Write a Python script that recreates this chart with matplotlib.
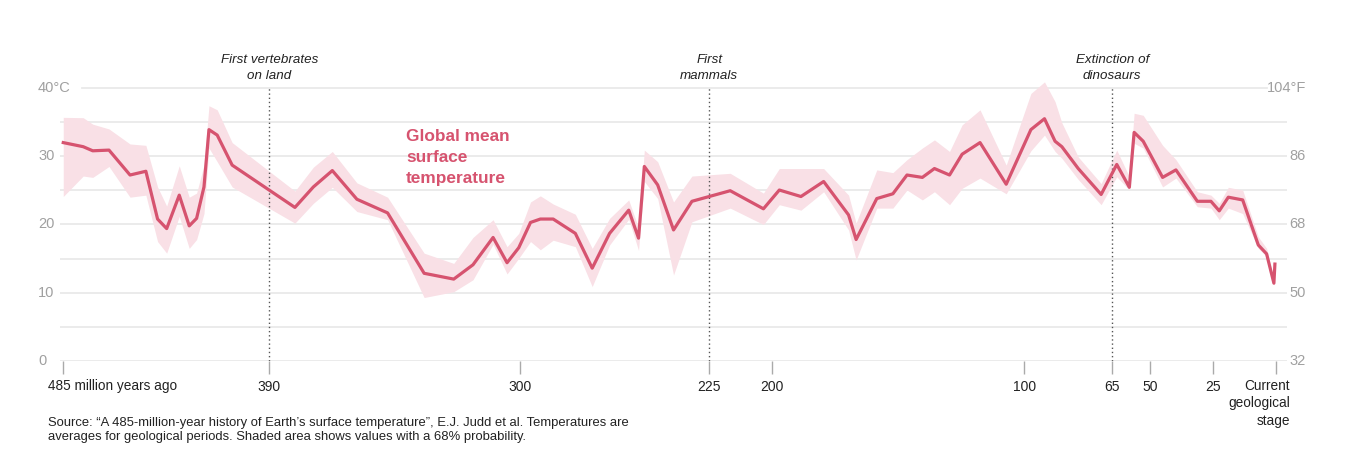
# Global mean surface temperature over the last 485 million years
import numpy as np
import matplotlib.pyplot as plt

plt.rcParams['font.family'] = ['Liberation Sans', 'DejaVu Sans']

# Data (millions of years ago, °C)
myr = [485, 475.8, 471.4, 463.9, 454.2, 446.9, 441.5, 437.3, 431.5, 426.9,
       423.5, 420.1, 417.8, 414.0, 407.1, 380.8, 374.2, 367.4, 358.6, 347.6,
       334.5, 323.9, 317.0, 309.8, 304.8, 300.6, 296.0, 292.1, 287.0, 278.2,
       271.5, 264.6, 257.0, 253.1, 250.8, 245.5, 239.2, 231.9, 216.7, 203.5,
       197.2, 188.6, 179.6, 169.7, 166.7, 158.5, 152.1, 146.5, 140.4, 135.6,
       129.6, 124.6, 117.5, 107.1, 97.3, 91.9, 87.7, 85.0, 78.5, 69.4,
       63.2, 58.2, 56.3, 52.7, 45.0, 39.7, 31.2, 25.8, 22.5, 18.9,
       13.2, 7.0, 3.7, 0.8, 0.4]
temp = [32.0, 31.4, 30.8, 30.9, 27.25, 27.8, 20.8, 19.4, 24.3, 19.8,
        20.9, 25.5, 33.9, 33.1, 28.7, 22.5, 25.5, 27.9, 23.7, 21.7,
        12.85, 12.0, 14.1, 18.1, 14.4, 16.6, 20.3, 20.8, 20.8, 18.7,
        13.6, 18.7, 22.1, 18.0, 28.5, 25.8, 19.2, 23.4, 24.95, 22.3,
        25.05, 24.1, 26.3, 21.4, 17.8, 23.8, 24.5, 27.25, 26.9, 28.2,
        27.25, 30.3, 32.0, 25.9, 33.9, 35.5, 32.2, 31.4, 28.2, 24.4,
        28.8, 25.45, 33.5, 32.2, 26.9, 28.0, 23.4, 23.4, 22.0, 24.0,
        23.6, 17.0, 15.7, 11.4, 14.2]
upper = [35.7, 35.65, 34.7, 34.0, 31.8, 31.6, 25.5, 22.7, 28.6, 24.0,
         24.6, 28.7, 37.4, 36.8, 32.0, 24.9, 28.4, 30.7, 26.1, 24.0,
         15.8, 14.3, 18.1, 20.7, 16.75, 18.7, 23.3, 24.2, 23.0, 21.5,
         16.5, 20.9, 23.6, 19.5, 30.9, 29.2, 23.3, 27.1, 27.5, 24.6,
         28.2, 28.2, 28.2, 24.3, 20.2, 28.0, 27.6, 29.5, 31.2, 32.4,
         30.7, 34.6, 36.8, 28.7, 39.2, 40.9, 38.0, 34.9, 29.9, 26.0,
         30.9, 27.0, 36.3, 36.0, 31.6, 29.5, 24.8, 24.3, 23.1, 25.45,
         25.05, 18.2, 16.5, 11.9, 14.5]
lower = [24.1, 27.1, 26.9, 28.5, 24.0, 24.3, 17.5, 15.8, 21.2, 16.5,
         17.8, 21.6, 31.2, 29.2, 25.5, 20.2, 23.1, 25.45, 21.9, 20.7,
         9.3, 10.15, 11.9, 17.1, 12.75, 15.05, 17.5, 16.3, 17.7, 16.75,
         10.9, 17.0, 20.76, 16.2, 26.3, 23.8, 12.6, 20.4, 22.4, 20.0,
         22.9, 22.1, 24.8, 19.2, 14.8, 22.4, 22.4, 25.05, 23.6, 24.8,
         22.9, 25.3, 26.8, 24.5, 30.8, 33.1, 30.7, 29.7, 26.6, 22.9,
         27.0, 25.05, 31.9, 31.2, 25.5, 26.8, 22.6, 22.4, 20.7, 22.4,
         21.6, 16.5, 15.3, 11.1, 13.9]

x_ticks = [485, 390, 300, 225, 200, 100, 65, 50, 25, 0]
x_labels = ['', '390', '300', '225', '200', '100', '65', '50', '25', '']
c_ticks = [0, 10, 20, 30, 40]
c_labels = ['0', '10', '20', '30', '40°C']
f_labels = ['32', '50', '68', '86', '104°F']
events = [(390, 'First vertebrates\non land'),
          (225, 'First\nmammals'),
          (65, 'Extinction of\ndinosaurs')]

LINE = '#d6536f'
BAND = '#f9e0e6'

# The original time axis is not evenly spaced before 300 Ma
KNOT_MYR = [-50, 0, 300, 390, 485, 600]
KNOT_POS = [-126, 0, 755.5, 1006.7, 1212.7, 1462]


def fwd(m):
    return np.interp(m, KNOT_MYR, KNOT_POS)


def inv(p):
    return np.interp(p, KNOT_POS, KNOT_MYR)


fig = plt.figure(figsize=(13.45, 4.61), dpi=100)
ax = fig.add_axes([60 / 1345, 100 / 461, 1227 / 1345, 42 * 6.825 / 461])
ax.set_xscale('function', functions=(fwd, inv))
ax.set_xlim(486.5, -4.4)
ax.set_ylim(0, 42)
for s in ax.spines.values():
    s.set_visible(False)

# gridlines every 5 °C
for v in range(0, 41, 5):
    if v == 40:
        ax.axhline(v, xmin=22 / 1227, xmax=1207 / 1227, color='#e9e9e9', lw=1.3, zorder=0)
    else:
        ax.axhline(v, color='#e9e9e9', lw=1.3, zorder=0)

# shaded 68% range and mean line
ax.fill_between(myr, lower, upper, color=BAND, lw=0, zorder=1)
ax.plot(myr, temp, color=LINE, lw=2.3, zorder=3, solid_joinstyle='round')

# event markers
for m, txt in events:
    ax.axvline(m, ymin=0, ymax=40 / 42, color='#555555', lw=1, ls=(0, (1, 2)), zorder=2)
    ax.annotate(txt, xy=(m, 40), xytext=(0, 6), textcoords='offset pixels',
                ha='center', va='bottom', style='italic', fontsize=9.6,
                color='#222222', linespacing=1.45)

# axis labels in °C and °F
for c, lc, lf in zip(c_ticks, c_labels, f_labels):
    ax.annotate(lc, xy=(0, c), xycoords=('axes fraction', 'data'), xytext=(-22, 0),
                textcoords='offset pixels', ha='left', va='center', color='#a0a0a0', fontsize=10.5)
    ax.annotate(lf, xy=(1, c), xycoords=('axes fraction', 'data'), xytext=(19, 0),
                textcoords='offset pixels', ha='right', va='center', color='#a0a0a0', fontsize=10.5)

ax.set_yticks([])
ax.set_xticks(x_ticks)
ax.set_xticklabels(x_labels)
ax.tick_params(axis='x', length=9.4, width=1, color='#aaaaaa', pad=4,
               labelsize=10, labelcolor='#222222')
ax.xaxis.set_minor_locator(plt.NullLocator())

ax.annotate('485 million years ago', xy=(485, 0), xytext=(-15, -18), textcoords='offset pixels',
            ha='left', va='top', fontsize=9.8, color='#222222')
ax.annotate('Current\ngeological\nstage', xy=(0, 0), xytext=(14, -18), textcoords='offset pixels',
            ha='right', va='top', fontsize=9.8, color='#222222', linespacing=1.3)

ax.text(341, 34.0, 'Global mean\nsurface\ntemperature', color=LINE, fontsize=12.4,
        fontweight='bold', ha='left', va='top', linespacing=1.5)

fig.text(48 / 1345, 1 - 417 / 461,
         'Source: \u201cA 485-million-year history of Earth\u2019s surface temperature\u201d, '
         'E.J. Judd et al. Temperatures are\n'
         'averages for geological periods. Shaded area shows values with a 68% probability.',
         ha='left', va='top', fontsize=9.4, color='#222222', linespacing=1.22)

fig.savefig('out.png', dpi=100)
